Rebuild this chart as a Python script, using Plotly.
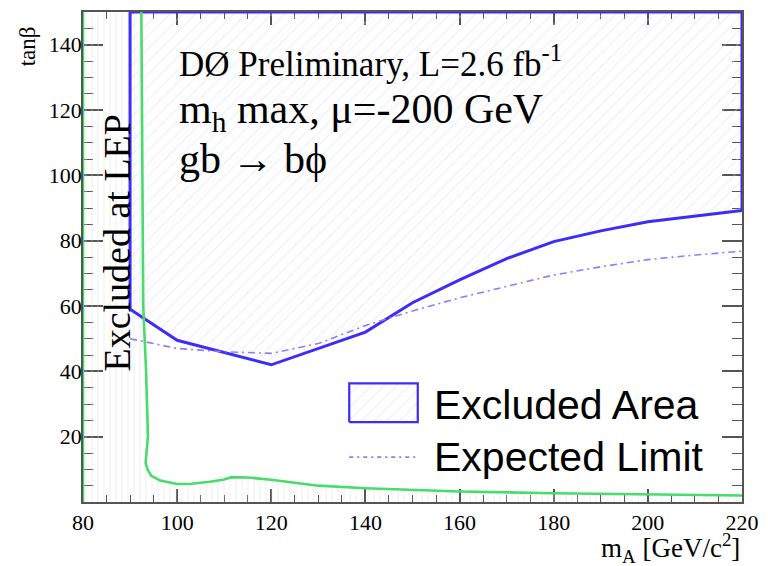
import plotly.graph_objects as go

# ---------------- data ----------------
# observed exclusion contour (blue)
obs_mA = [90, 90, 100, 120, 140, 150, 160, 170, 180, 190, 200, 210, 220]
obs_tb = [150, 59, 49.5, 42, 52, 61, 68, 74.5, 79.7, 83, 85.8, 87.5, 89.2]

# expected limit (dash-dot)
exp_mA = [90, 100, 110, 120, 130, 140, 150, 160, 170, 180, 190, 200, 210, 220]
exp_tb = [50, 47, 46, 45.5, 48.5, 54, 58.5, 62.5, 66, 69.5, 72, 74.2, 75.6, 76.8]

# LEP exclusion boundary (green)
lep_mA = [92.4, 92.6, 92.8, 93.4, 93.8, 93.8, 93.3, 93.7, 94.5, 96.4, 100, 103, 107, 110,
          111.5, 115, 120, 125, 130, 140, 150, 160, 180, 200, 220]
lep_tb = [150, 100, 60, 40, 23, 20, 12, 10, 8, 6.6, 5.5, 5.6, 6.2, 6.9,
          7.6, 7.5, 6.8, 5.8, 5.0, 4.2, 3.6, 3.2, 2.7, 2.3, 2.0]

x_ticks = [80, 100, 120, 140, 160, 180, 200, 220]
y_ticks = [20, 40, 60, 80, 100, 120, 140]

BLUE = "#3d2cf5"
GREEN = "#48dc6c"
AXC = "#555555"
SERIF = "Liberation Serif, Times New Roman, serif"
SANS = "Liberation Sans, Arial, sans-serif"

fig = go.Figure()

# LEP excluded area (vertical hatching)
fig.add_trace(go.Scatter(
    x=[80, 80] + lep_mA + [220],
    y=[0, 150] + lep_tb + [0],
    mode="lines", line=dict(width=0), fill="toself",
    fillcolor="rgba(255,255,255,0)",
    fillpattern=dict(shape="|", fgcolor="#dcdcdc", bgcolor="rgba(255,255,255,0)",
                     size=6, solidity=0.15),
    hoverinfo="skip", showlegend=False))

# Excluded area (diagonal hatching) with blue border
fig.add_trace(go.Scatter(
    x=obs_mA + [220, 90],
    y=obs_tb + [150, 150],
    mode="lines", line=dict(color=BLUE, width=3), fill="toself",
    fillcolor="rgba(255,255,255,0)",
    fillpattern=dict(shape="/", fgcolor="#d8d8fa", bgcolor="rgba(255,255,255,0)",
                     size=9, solidity=0.12),
    hoverinfo="skip", showlegend=False))

# expected limit
fig.add_trace(go.Scatter(
    x=exp_mA, y=exp_tb, mode="lines",
    line=dict(color="#8a7cff", width=1.6, dash="7px,4px,2px,4px"),
    hoverinfo="skip", showlegend=False))

# LEP green boundary
fig.add_trace(go.Scatter(
    x=[80, 80, None] + lep_mA, y=[0, 150, None] + lep_tb, mode="lines",
    line=dict(color=GREEN, width=2.6), connectgaps=False,
    hoverinfo="skip", showlegend=False))

# legend drawn on an overlay axis (0..1 both ways)
fig.add_trace(go.Scatter(
    x=[0.404, 0.508, 0.508, 0.404, 0.404], y=[0.163, 0.163, 0.242, 0.242, 0.163],
    xaxis="x2", yaxis="y2", mode="lines", line=dict(color=BLUE, width=2.2),
    fill="toself", fillcolor="rgba(255,255,255,0)",
    fillpattern=dict(shape="/", fgcolor="#d8d8fa", bgcolor="rgba(255,255,255,0)",
                     size=9, solidity=0.12),
    hoverinfo="skip", showlegend=False))
fig.add_trace(go.Scatter(
    x=[0.404, 0.508], y=[0.0915, 0.0915], xaxis="x2", yaxis="y2", mode="lines",
    line=dict(color="#8a7cff", width=1.6, dash="4px,4px,2px,4px"),
    hoverinfo="skip", showlegend=False))

axis_common = dict(showline=True, linecolor=AXC, linewidth=1.5, mirror="allticks",
                   ticks="inside", tickcolor=AXC, showgrid=False, zeroline=False,
                   layer="below traces",
                   tickfont=dict(family=SERIF, size=22, color="black"))

# the page body has an 8px margin, so the figure is sized to fit the window
fig.update_layout(
    width=760, height=558,
    margin=dict(l=75, r=26, t=2, b=64),
    paper_bgcolor="white", plot_bgcolor="white",
    xaxis=dict(range=[80, 220], tickvals=x_ticks, ticklen=13, tickwidth=1.5,
               minor=dict(dtick=5, tick0=80, ticklen=7, ticks="inside", tickcolor=AXC,
                          tickwidth=1.2, showgrid=False),
               ticklabelstandoff=0, **axis_common),
    yaxis=dict(range=[0, 150], tickvals=y_ticks, ticklen=20, tickwidth=1.5,
               minor=dict(dtick=5, tick0=0, ticklen=10, ticks="inside", tickcolor=AXC,
                          tickwidth=1.2, showgrid=False),
               ticklabelstandoff=-5, **axis_common),
    xaxis2=dict(overlaying="x", range=[0, 1], visible=False, fixedrange=True),
    yaxis2=dict(overlaying="y", range=[0, 1], visible=False, fixedrange=True),
    showlegend=False,
)

ann = [
    dict(text="DØ Preliminary, L=2.6 fb<sup>-1</sup>", x=0.142, y=0.898, size=35, font=SERIF),
    dict(text="m<sub>h</sub> max, μ=-200 GeV", x=0.142, y=0.795, size=42, font=SERIF),
    dict(text="gb → bϕ", x=0.142, y=0.700, size=42, font=SERIF),
    dict(text="Excluded Area", x=0.529, y=0.197, size=41, font=SANS),
    dict(text="Expected Limit", x=0.529, y=0.0915, size=41, font=SANS),
]
for a in ann:
    fig.add_annotation(text=a["text"], x=a["x"], y=a["y"], xref="paper", yref="paper",
                       xanchor="left", yanchor="middle", showarrow=False,
                       font=dict(family=a["font"], size=a["size"], color="black"))

fig.add_annotation(text="Excluded at LEP", x=0.052, y=0.528, xref="paper", yref="paper",
                   textangle=-90, showarrow=False, xanchor="center", yanchor="middle",
                   font=dict(family=SERIF, size=38, color="black"))
fig.add_annotation(text="m<sub>A</sub> [GeV/c<sup>2</sup>]", x=1.0, y=-0.093,
                   xref="paper", yref="paper", xanchor="right", yanchor="middle",
                   showarrow=False, font=dict(family=SERIF, size=27, color="black"))
fig.add_annotation(text="tanβ", x=-0.085, y=0.93, xref="paper", yref="paper",
                   textangle=-90, xanchor="center", yanchor="middle", showarrow=False,
                   font=dict(family=SERIF, size=23, color="black"))

fig.write_html("out.html")
